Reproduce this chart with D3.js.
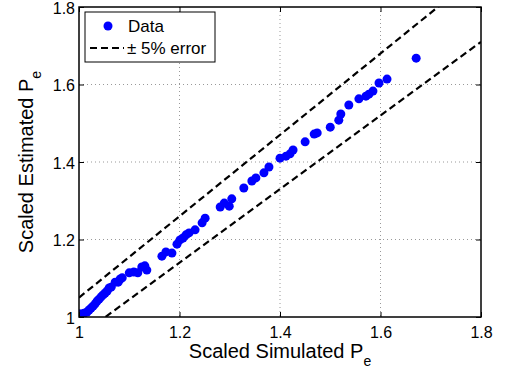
<!DOCTYPE html>
<html>
<head>
<meta charset="utf-8">
<script src="https://cdn.jsdelivr.net/npm/d3@7"></script>
<style>
  html, body { margin: 0; padding: 0; background: #fff; }
  svg { display: block; font-family: "Liberation Sans", Arial, sans-serif; }
</style>
</head>
<body>
<div id="plot"></div>
<script>
// scaled simulated Pe (x) vs scaled estimated Pe (y)
const simX = [1.000, 1.004, 1.010, 1.016, 1.020, 1.024, 1.028, 1.032, 1.036, 1.040,
              1.044, 1.048, 1.052, 1.056, 1.060, 1.064, 1.072, 1.078, 1.082, 1.086,
              1.100, 1.109, 1.117, 1.125, 1.131, 1.135, 1.165, 1.173, 1.185, 1.195,
              1.201, 1.207, 1.213, 1.219, 1.231, 1.245, 1.251, 1.281, 1.289, 1.299,
              1.304, 1.328, 1.344, 1.352, 1.368, 1.378, 1.400, 1.412, 1.420, 1.426,
              1.450, 1.468, 1.474, 1.500, 1.517, 1.521, 1.537, 1.557, 1.571, 1.577,
              1.585, 1.597, 1.613, 1.671];
const estY = [1.008, 1.008, 1.010, 1.013, 1.018, 1.023, 1.028, 1.034, 1.041, 1.046,
              1.052, 1.057, 1.062, 1.067, 1.075, 1.077, 1.090, 1.090, 1.098, 1.101,
              1.114, 1.116, 1.114, 1.129, 1.132, 1.121, 1.157, 1.168, 1.165, 1.188,
              1.199, 1.204, 1.212, 1.217, 1.225, 1.243, 1.255, 1.284, 1.294, 1.286,
              1.305, 1.333, 1.351, 1.359, 1.372, 1.387, 1.410, 1.415, 1.421, 1.431,
              1.452, 1.472, 1.475, 1.490, 1.508, 1.524, 1.547, 1.563, 1.570, 1.575,
              1.583, 1.604, 1.614, 1.668];

const xTicks = [1, 1.2, 1.4, 1.6, 1.8];
const yTicks = [1, 1.2, 1.4, 1.6, 1.8];
const errorPct = 0.05;
const legendLabels = ['Data', '\u00b1 5% error'];

const W = 505, H = 370;
const margin = {top: 7, right: 24, bottom: 53, left: 79};
const iw = W - margin.left - margin.right;
const ih = H - margin.top - margin.bottom;

const svg = d3.select('#plot').append('svg')
    .attr('width', W)
    .attr('height', H);

const x = d3.scaleLinear().domain([1, 1.8]).range([0, iw]);
const y = d3.scaleLinear().domain([1, 1.8]).range([ih, 0]);

const g = svg.append('g').attr('transform', `translate(${margin.left},${margin.top})`);

svg.append('defs').append('clipPath').attr('id', 'clip')
    .append('rect').attr('width', iw).attr('height', ih);

// dotted grid
g.append('g').selectAll('line.gx')
    .data(xTicks.slice(1, -1))
    .enter().append('line')
    .attr('x1', d => x(d)).attr('x2', d => x(d))
    .attr('y1', 0).attr('y2', ih)
    .attr('stroke', '#999').attr('stroke-dasharray', '1,3');
g.append('g').selectAll('line.gy')
    .data(yTicks.slice(1, -1))
    .enter().append('line')
    .attr('y1', d => y(d)).attr('y2', d => y(d))
    .attr('x1', 0).attr('x2', iw)
    .attr('stroke', '#999').attr('stroke-dasharray', '1,3');

// +/- 5% lines
const plot = g.append('g').attr('clip-path', 'url(#clip)');
const bandX = x.domain();
[1 + errorPct, 1 - errorPct].forEach(k => {
    plot.append('line')
        .attr('x1', x(bandX[0])).attr('y1', y(bandX[0] * k))
        .attr('x2', x(bandX[1])).attr('y2', y(bandX[1] * k))
        .attr('stroke', '#000')
        .attr('stroke-width', 2.2)
        .attr('stroke-dasharray', '7,4');
});

// data points
plot.selectAll('circle')
    .data(simX.map((v, i) => [v, estY[i]]))
    .enter().append('circle')
    .attr('cx', d => x(d[0]))
    .attr('cy', d => y(d[1]))
    .attr('r', 4.5)
    .attr('fill', '#0000ff');

// axes: ticks inward on all four sides, matlab style
const tickLen = 5;
const fmt = d => d3.format('')(+d.toFixed(1));
const axB = g.append('g').attr('transform', `translate(0,${ih})`)
    .call(d3.axisBottom(x).tickValues(xTicks).tickSizeInner(-tickLen).tickSizeOuter(0).tickPadding(10).tickFormat(fmt));
const axT = g.append('g')
    .call(d3.axisTop(x).tickValues(xTicks).tickSizeInner(-tickLen).tickSizeOuter(0).tickFormat(''));
const axL = g.append('g')
    .call(d3.axisLeft(y).tickValues(yTicks).tickSizeInner(-tickLen).tickSizeOuter(0).tickPadding(4).tickFormat(fmt));
const axR = g.append('g').attr('transform', `translate(${iw},0)`)
    .call(d3.axisRight(y).tickValues(yTicks).tickSizeInner(-tickLen).tickSizeOuter(0).tickFormat(''));

[axB, axT, axL, axR].forEach(a => {
    a.select('.domain').remove();
    a.selectAll('.tick line').attr('stroke', '#000').attr('stroke-width', 1);
    a.selectAll('text').attr('font-size', 16).attr('fill', '#000')
        .attr('font-family', '"Liberation Sans", Arial, sans-serif');
});
axL.selectAll('text').attr('dy', '0.4em');

g.append('rect')
    .attr('width', iw).attr('height', ih)
    .attr('fill', 'none').attr('stroke', '#000').attr('stroke-width', 1.5);

// axis labels
const xl = svg.append('text')
    .attr('x', margin.left + iw / 2)
    .attr('y', 358)
    .attr('text-anchor', 'middle')
    .attr('font-size', 20);
xl.append('tspan').text('Scaled Simulated P');
xl.append('tspan').attr('font-size', 14).attr('dy', 8).text('e');

const yl = svg.append('text')
    .attr('transform', `translate(33,${margin.top + ih / 2}) rotate(-90)`)
    .attr('text-anchor', 'middle')
    .attr('font-size', 20);
yl.append('tspan').text('Scaled Estimated P');
yl.append('tspan').attr('font-size', 14).attr('dy', 8).text('e');

// legend
const lg = g.append('g').attr('transform', 'translate(6,5)');
lg.append('rect')
    .attr('width', 130).attr('height', 50)
    .attr('fill', '#fff').attr('stroke', '#000').attr('stroke-width', 1);
lg.append('circle').attr('cx', 23).attr('cy', 14).attr('r', 4.5).attr('fill', '#0000ff');
lg.append('line')
    .attr('x1', 5).attr('x2', 39).attr('y1', 36).attr('y2', 36)
    .attr('stroke', '#000').attr('stroke-width', 2.2).attr('stroke-dasharray', '7,4');
lg.selectAll('text.lab')
    .data(legendLabels)
    .enter().append('text')
    .attr('x', (d, i) => i === 0 ? 43 : 42)
    .attr('y', (d, i) => 20 + i * 22)
    .attr('font-size', 17)
    .text(d => d);
</script>
</body>
</html>
